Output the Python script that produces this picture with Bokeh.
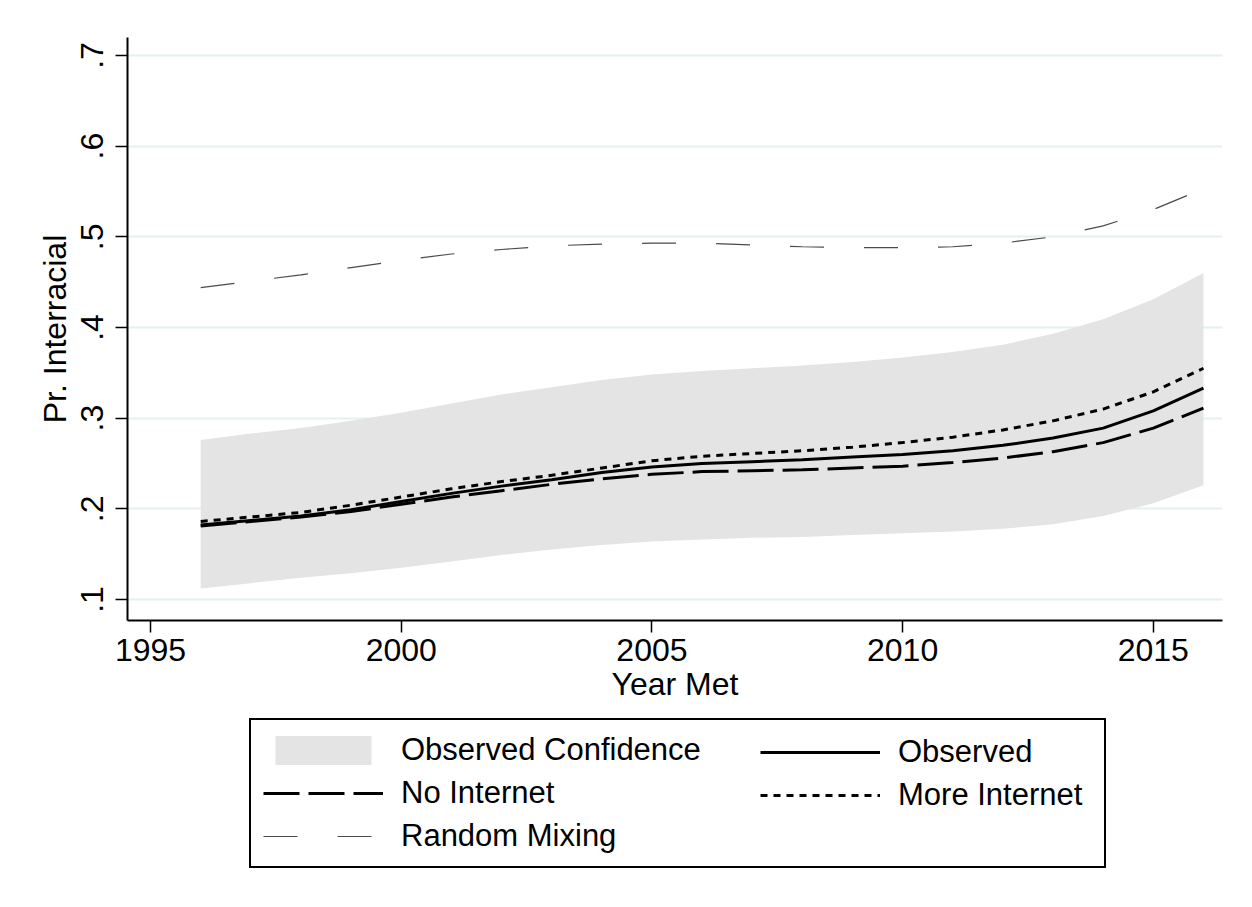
from bokeh.plotting import figure
from bokeh.layouts import column
from bokeh.models import Range1d, FixedTicker, Legend, LegendItem
from bokeh.embed import file_html
from bokeh.resources import INLINE

# ---- data ----
years = list(range(1996, 2017))
observed = [0.182, 0.187, 0.192, 0.199, 0.208, 0.217, 0.225, 0.232, 0.240, 0.246, 0.250,
            0.252, 0.254, 0.257, 0.260, 0.264, 0.270, 0.278, 0.289, 0.308, 0.333]
more_internet = [0.186, 0.191, 0.196, 0.204, 0.213, 0.222, 0.230, 0.237, 0.245, 0.253, 0.258,
                 0.261, 0.264, 0.268, 0.273, 0.279, 0.287, 0.297, 0.310, 0.329, 0.355]
no_internet = [0.181, 0.186, 0.191, 0.197, 0.205, 0.213, 0.220, 0.227, 0.233, 0.238, 0.241,
               0.242, 0.243, 0.245, 0.247, 0.251, 0.256, 0.263, 0.273, 0.289, 0.311]
ci_upper = [0.276, 0.283, 0.289, 0.297, 0.306, 0.316, 0.326, 0.334, 0.342, 0.348, 0.352,
            0.355, 0.358, 0.362, 0.367, 0.373, 0.381, 0.393, 0.409, 0.431, 0.460]
ci_lower = [0.112, 0.118, 0.124, 0.129, 0.135, 0.142, 0.149, 0.155, 0.160, 0.164, 0.166,
            0.168, 0.169, 0.171, 0.173, 0.175, 0.178, 0.183, 0.192, 0.206, 0.226]
random_mixing = [0.444, 0.451, 0.458, 0.466, 0.474, 0.481, 0.486, 0.490, 0.492, 0.493, 0.493,
                 0.491, 0.489, 0.488, 0.488, 0.489, 0.493, 0.500, 0.512, 0.530, 0.553]

x_ticks = [1995, 2000, 2005, 2010, 2015]
y_ticks = [0.1, 0.2, 0.3, 0.4, 0.5, 0.6, 0.7]
y_tick_labels = [".1", ".2", ".3", ".4", ".5", ".6", ".7"]

FONT = "Liberation Sans"
FS = "32px"
LFS = "31px"
W = 1248

# ---- styles ----
CI_STYLE = dict(fill_color="#E4E4E4")
RAND_STYLE = dict(line_color="#4A4A4A", line_width=1.2, line_dash="34 40")
NO_STYLE = dict(line_color="black", line_width=3, line_dash="36 9")
MORE_STYLE = dict(line_color="black", line_width=3, line_dash="7 6")
OBS_STYLE = dict(line_color="black", line_width=3)

p = figure(width=W, height=715, output_backend="svg", toolbar_location=None,
           x_range=Range1d(1994.54, 2016.38), y_range=Range1d(0.0768, 0.7198),
           min_border_left=127, min_border_right=26, min_border_top=37,
           min_border_bottom=95, background_fill_color="white",
           border_fill_color="white")
p.outline_line_color = None

# grid
p.xgrid.grid_line_color = None
p.ygrid.ticker = FixedTicker(ticks=y_ticks)
p.ygrid.grid_line_color = "#E6EFF1"
p.ygrid.grid_line_width = 2

# axes
for ax in (p.xaxis[0], p.yaxis[0]):
    ax.axis_line_color = "black"
    ax.axis_line_width = 2
    ax.major_tick_line_color = "black"
    ax.major_tick_line_width = 1.5
    ax.major_tick_out = 12
    ax.major_tick_in = 0
    ax.minor_tick_line_color = None
    ax.major_label_text_font = FONT
    ax.major_label_text_font_size = FS
    ax.major_label_text_color = "black"
    ax.axis_label_text_font = FONT
    ax.axis_label_text_font_size = FS
    ax.axis_label_text_font_style = "normal"
    ax.axis_label_text_color = "black"

p.xaxis.ticker = FixedTicker(ticks=x_ticks)
p.xaxis.axis_label = "Year Met"
p.xaxis.major_label_standoff = 6
p.xaxis.axis_label_standoff = 2

p.yaxis.ticker = FixedTicker(ticks=y_ticks)
p.yaxis.major_label_overrides = {t: lab for t, lab in zip(y_ticks, y_tick_labels)}
p.yaxis.major_label_orientation = "vertical"
p.yaxis.axis_label = "Pr. Interracial"
p.yaxis.major_label_standoff = 12
p.yaxis.axis_label_standoff = 6

# glyphs
p.varea(x=years, y1=ci_lower, y2=ci_upper, **CI_STYLE)
p.line(years, random_mixing, **RAND_STYLE)
p.line(years, no_internet, **NO_STYLE)
p.line(years, more_internet, **MORE_STYLE)
p.line(years, observed, **OBS_STYLE)

# ---- legend strip below the plot (its frame is aligned with the plot frame) ----
q = figure(width=W, height=188, output_backend="svg", toolbar_location=None,
           x_range=Range1d(0, 1), y_range=Range1d(0, 1),
           min_border_left=0, min_border_right=0, min_border_top=0, min_border_bottom=0,
           background_fill_color="white", border_fill_color="white")
q.outline_line_color = None
q.xaxis.visible = False
q.yaxis.visible = False
q.grid.visible = False

# key renderers (same series, lying outside this strip's ranges so only the keys show)
k_ci = q.varea(x=years, y1=ci_lower, y2=ci_upper, **CI_STYLE)
k_rand = q.line(years, random_mixing, **RAND_STYLE)
k_no = q.line(years, no_internet, **NO_STYLE)
k_more = q.line(years, more_internet, **MORE_STYLE)
k_obs = q.line(years, observed, **OBS_STYLE)

common = dict(glyph_width=120, glyph_height=36, label_standoff=18, spacing=7,
              label_text_font=FONT, label_text_font_size=LFS, label_text_color="black")

leg_a = Legend(items=[LegendItem(label="Observed Confidence", renderers=[k_ci]),
                      LegendItem(label="No Internet", renderers=[k_no]),
                      LegendItem(label="Random Mixing", renderers=[k_rand])],
               location=(122, 35), padding=12, label_width=691,
               border_line_color="black", border_line_width=2, border_line_alpha=1.0,
               background_fill_color="white", background_fill_alpha=1.0, **common)
leg_b = Legend(items=[LegendItem(label="Observed", renderers=[k_obs]),
                      LegendItem(label="More Internet", renderers=[k_more])],
               location=(633, 90), padding=0, margin=0,
               border_line_color=None, background_fill_alpha=0.0, **common)
q.add_layout(leg_a, "center")
q.add_layout(leg_b, "center")

layout = column(p, q, spacing=0)
open("out.html", "w").write(file_html(layout, INLINE))
